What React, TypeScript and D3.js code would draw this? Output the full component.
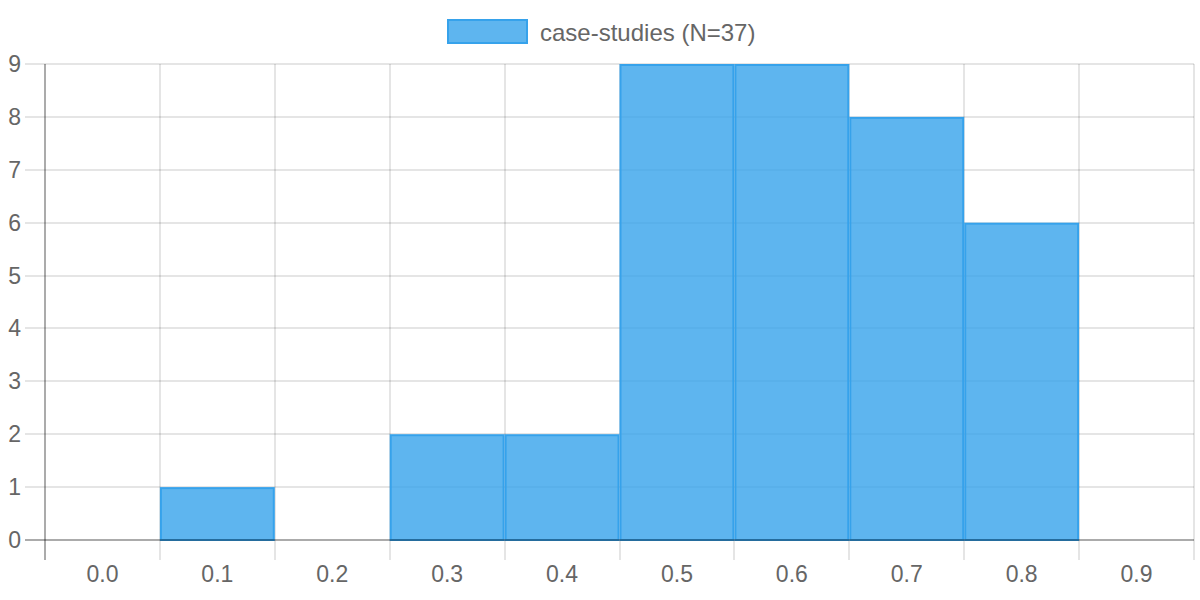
import React from "react";
import * as d3 from "d3";

const categories: string[] = ["0.0", "0.1", "0.2", "0.3", "0.4", "0.5", "0.6", "0.7", "0.8", "0.9"];
const counts: number[] = [0, 1, 0, 2, 2, 9, 9, 8, 6, 0];
const yTicks: number[] = [0, 1, 2, 3, 4, 5, 6, 7, 8, 9];
const seriesLabel = "case-studies (N=37)";

const W = 1200;
const H = 600;
const M = { left: 45, right: 6, top: 64, bottom: 60 };
const FONT = "'Liberation Sans', Arial, sans-serif";

export default function App() {
  const x = d3
    .scaleBand<string>()
    .domain(categories)
    .range([M.left, W - M.right])
    .paddingInner(0)
    .paddingOuter(0);
  const y = d3.scaleLinear().domain([0, 9]).range([H - M.bottom, M.top]);
  const bottom = H - M.bottom;
  const grid = "rgba(0,0,0,0.1)";
  const axisCol = "rgba(0,0,0,0.33)";
  const tickLen = 20;

  const vLines = categories.map((c) => x(c)!).concat([x.range()[1]]);

  return (
    <svg width={W} height={H} style={{ position: "absolute", left: 0, top: 0 }} fontFamily={FONT}>
      <rect width={W} height={H} fill="#fff" />
      {/* horizontal grid */}
      {yTicks
        .filter((t) => t !== 0)
        .map((t) => (
          <line
            key={"h" + t}
            x1={M.left - tickLen}
            x2={W - M.right}
            y1={Math.round(y(t))}
            y2={Math.round(y(t))}
            stroke={grid}
            strokeWidth={2}
          />
        ))}
      {/* vertical grid */}
      {vLines.map((vx, i) => (
        <line
          key={"v" + i}
          x1={Math.round(vx)}
          x2={Math.round(vx)}
          y1={M.top}
          y2={bottom + tickLen}
          stroke={i === 0 ? axisCol : grid}
          strokeWidth={2}
        />
      ))}
      {/* bars */}
      {categories.map((c, i) =>
        counts[i] > 0 ? (
          <rect
            key={"b" + c}
            x={x(c)! + 1}
            y={y(counts[i]) + 1}
            width={x.bandwidth() - 2}
            height={bottom - y(counts[i]) - 1}
            fill="rgba(54,162,235,0.8)"
            stroke="rgb(54,162,235)"
            strokeWidth={2}
          />
        ) : null
      )}
      {/* x axis line */}
      <line x1={M.left - tickLen} x2={W - M.right} y1={bottom} y2={bottom} stroke={axisCol} strokeWidth={2} />
      {/* y tick labels */}
      {yTicks.map((t) => (
        <text
          key={"yl" + t}
          x={21}
          y={y(t)}
          textAnchor="end"
          dominantBaseline="central"
          fontSize={23}
          fill="#666"
        >
          {t}
        </text>
      ))}
      {/* x tick labels */}
      {categories.map((c) => (
        <text
          key={"xl" + c}
          x={x(c)! + x.bandwidth() / 2}
          y={574}
          textAnchor="middle"
          dominantBaseline="central"
          fontSize={23}
          fill="#666"
        >
          {c}
        </text>
      ))}
      {/* legend */}
      <rect x={448} y={20} width={79} height={23} fill="rgba(54,162,235,0.8)" stroke="rgb(54,162,235)" strokeWidth={2} />
      <text x={540} y={32} dominantBaseline="central" fontSize={24} fill="#666">
        {seriesLabel}
      </text>
    </svg>
  );
}
